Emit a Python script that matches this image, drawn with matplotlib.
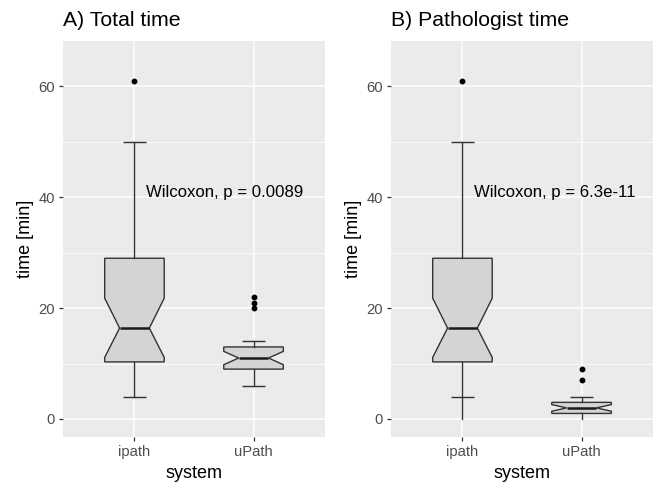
import matplotlib
matplotlib.use("Agg")
import matplotlib.pyplot as plt

plt.rcParams['font.family'] = ['Liberation Sans', 'DejaVu Sans']

systems = ['ipath', 'uPath']
positions = [1, 2]

# A) Total time
a_q1 = [10.3, 9.0]
a_med = [16.4, 11.0]
a_q3 = [29.0, 13.0]
a_notch_lo = [11.1, 9.8]
a_notch_hi = [21.8, 12.2]
a_whis_lo = [4, 6]
a_whis_hi = [50, 14]
a_cap_lo = [4, 6]
a_cap_hi = [50, 14]
a_fliers = [[61], [20, 21, 22]]

# B) Pathologist time
b_q1 = [10.3, 1.0]
b_med = [16.4, 2.0]
b_q3 = [29.0, 3.0]
b_notch_lo = [11.1, 1.4]
b_notch_hi = [21.8, 2.6]
b_whis_lo = [0, 0]
b_whis_hi = [50, 4]
b_cap_lo = [4, None]
b_cap_hi = [50, 4]
b_fliers = [[61], [7, 9]]

titles = ['A) Total time', 'B) Pathologist time']
labels = ['Wilcoxon, p = 0.0089', 'Wilcoxon, p = 6.3e-11']

panels = [
    (a_q1, a_med, a_q3, a_notch_lo, a_notch_hi, a_whis_lo, a_whis_hi, a_cap_lo, a_cap_hi, a_fliers),
    (b_q1, b_med, b_q3, b_notch_lo, b_notch_hi, b_whis_lo, b_whis_hi, b_cap_lo, b_cap_hi, b_fliers),
]

fig = plt.figure(figsize=(6.54, 4.83), dpi=100)
lefts = [63 / 654, 391 / 654]

for i, (q1, med, q3, nlo, nhi, wlo, whi, clo, chi, fl) in enumerate(panels):
    ax = fig.add_axes([lefts[i], 46 / 483, 262 / 654, 396.3 / 483])
    ax.set_facecolor('#EBEBEB')
    for s in ax.spines.values():
        s.set_visible(False)

    # gridlines
    for y in [10, 30, 50]:
        ax.axhline(y, color='white', lw=0.55, zorder=0)
    for y in [0, 20, 40, 60]:
        ax.axhline(y, color='white', lw=1.1, zorder=0)
    for x in positions:
        ax.axvline(x, color='white', lw=1.1, zorder=0)

    stats = []
    for j in range(len(systems)):
        stats.append(dict(med=med[j], q1=q1[j], q3=q3[j], cilo=nlo[j], cihi=nhi[j],
                          whislo=wlo[j], whishi=whi[j], fliers=fl[j]))
    ax.bxp(stats, positions=positions, widths=0.5, shownotches=True, showcaps=False,
           patch_artist=True,
           boxprops=dict(facecolor='#D4D4D4', edgecolor='#333333', linewidth=1.0),
           whiskerprops=dict(color='#333333', linewidth=1.0),
           medianprops=dict(color='#1A1A1A', linewidth=1.8),
           flierprops=dict(marker='o', markerfacecolor='black', markeredgecolor='black',
                           markersize=3.2, linestyle='none'),
           zorder=2)
    # error-bar caps
    for j, p in enumerate(positions):
        for c in (clo[j], chi[j]):
            if c is not None:
                ax.hlines(c, p - 0.1, p + 0.1, color='#333333', lw=1.0, zorder=3)

    ax.text(1.1, 40, labels[i], ha='left', va='baseline', fontsize=12.1, color='black')

    ax.set_xlim(0.4, 2.6)
    ax.set_ylim(-3.25, 68.25)
    ax.set_xticks(positions)
    ax.set_xticklabels(systems)
    ax.set_yticks([0, 20, 40, 60])
    ax.tick_params(colors='#333333', length=3.2, width=0.9, labelsize=10.6,
                   labelcolor='#4D4D4D', pad=2.5)
    ax.set_xlabel('system', fontsize=13)
    ax.set_ylabel('time [min]', fontsize=13)
    ax.xaxis.set_label_coords(0.5, -0.071)
    ax.yaxis.set_label_coords(-0.11, 0.5)
    ax.set_title(titles[i], loc='left', fontsize=15.3, pad=10.5)

fig.savefig('out.png', dpi=100)
